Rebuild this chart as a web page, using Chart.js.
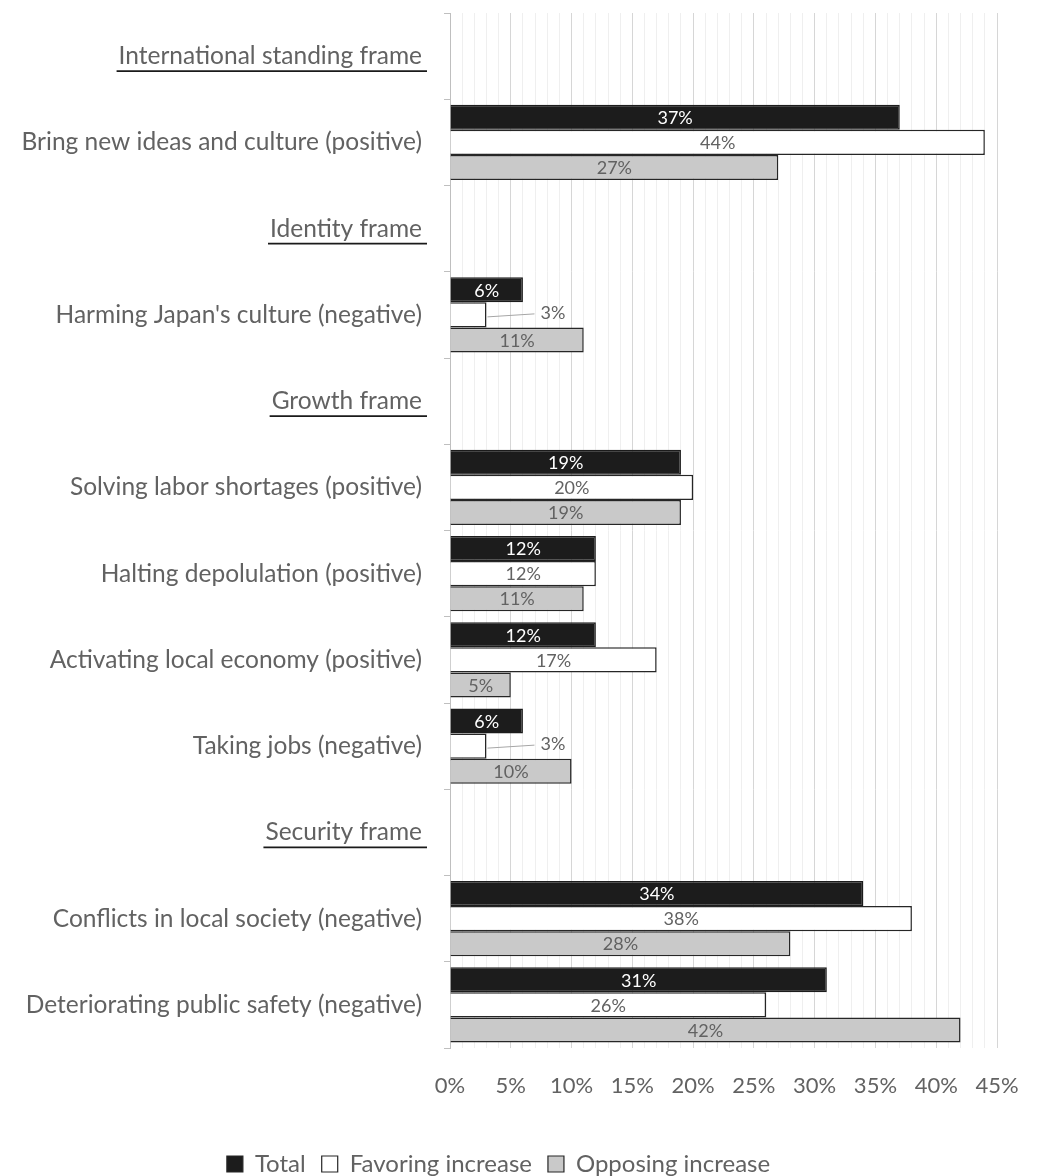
<!DOCTYPE html>
<html>
<head>
<meta charset="utf-8">
<script src="https://cdn.jsdelivr.net/npm/chart.js@4"></script>
<style>
  html, body { margin: 0; padding: 0; background: #ffffff; }
  #wrap { width: 1041px; height: 1176px; position: relative; }
</style>
</head>
<body>
<div id="wrap"><canvas id="c"></canvas></div>
<script>
const categories = [
  'International standing frame',
  'Bring new ideas and culture (positive)',
  'Identity frame',
  "Harming Japan's culture (negative)",
  'Growth frame',
  'Solving labor shortages (positive)',
  'Halting depolulation (positive)',
  'Activating local economy (positive)',
  'Taking jobs (negative)',
  'Security frame',
  'Conflicts in local society (negative)',
  'Deteriorating public safety (negative)'
];
const headers = ['International standing frame', 'Identity frame', 'Growth frame', 'Security frame'];
const seriesNames = ['Total', 'Favoring increase', 'Opposing increase'];
const totalValues     = [null, 37, null, 6,  null, 19, 12, 12, 6,  null, 34, 31];
const favoringValues  = [null, 44, null, 3,  null, 20, 12, 17, 3,  null, 38, 26];
const opposingValues  = [null, 27, null, 11, null, 19, 11, 5,  10, null, 28, 42];
const xTickValues = [0, 5, 10, 15, 20, 25, 30, 35, 40, 45];

const FONT = 'Lato';
const GREY_TEXT = '#626262';
const CAT_FONT_SIZE = 24.5;
const Y_TICK_PAD = 22;
const Y_TICK_LEN = 6;

const labelPlugin = {
  id: 'barLabels',
  afterDatasetsDraw(chart) {
    const ctx = chart.ctx;
    const colors = ['#ffffff', GREY_TEXT, GREY_TEXT];
    chart.data.datasets.forEach((ds, i) => {
      const meta = chart.getDatasetMeta(i);
      if (meta.hidden) return;
      meta.data.forEach((bar, j) => {
        const v = ds.data[j];
        if (v === null || v === undefined) return;
        const txt = v + '%';
        ctx.save();
        ctx.font = '18px ' + FONT;
        ctx.textBaseline = 'middle';
        const w = ctx.measureText(txt).width;
        const left = bar.base, right = bar.x;
        if (right - left < w + 20) {
          ctx.strokeStyle = '#a6a6a6';
          ctx.lineWidth = 1;
          ctx.beginPath();
          ctx.moveTo(right + 1, bar.y + 2);
          ctx.lineTo(right + 48, bar.y - 1);
          ctx.stroke();
          ctx.fillStyle = GREY_TEXT;
          ctx.textAlign = 'left';
          ctx.fillText(txt, right + 54, bar.y - 2);
        } else {
          ctx.fillStyle = colors[i];
          ctx.textAlign = 'center';
          ctx.fillText(txt, (left + right) / 2, bar.y + 1);
        }
        ctx.restore();
      });
    });
  }
};

const underlinePlugin = {
  id: 'headerUnderline',
  afterDraw(chart) {
    const ctx = chart.ctx;
    const ys = chart.scales.y;
    ctx.save();
    ctx.font = CAT_FONT_SIZE + 'px ' + FONT;
    ctx.strokeStyle = '#1a1a1a';
    ctx.lineWidth = 1.6;
    categories.forEach((c, i) => {
      if (!headers.includes(c)) return;
      const y = ys.getPixelForValue(i);
      const right = ys.right - Y_TICK_LEN - Y_TICK_PAD;
      const w = ctx.measureText(c).width;
      ctx.beginPath();
      ctx.moveTo(right - w - 2, y + 15);
      ctx.lineTo(right + 5, y + 15);
      ctx.stroke();
    });
    ctx.restore();
  }
};

const ctx = document.getElementById('c');
new Chart(ctx, {
  type: 'bar',
  data: {
    labels: categories,
    datasets: [
      { label: seriesNames[0], data: totalValues, backgroundColor: '#1c1c1c', borderColor: '#1c1c1c', borderWidth: 1.5 },
      { label: seriesNames[1], data: favoringValues, backgroundColor: '#ffffff', borderColor: '#262626', borderWidth: 1.5 },
      { label: seriesNames[2], data: opposingValues, backgroundColor: '#c9c9c9', borderColor: '#262626', borderWidth: 1.5 }
    ]
  },
  options: {
    indexAxis: 'y',
    responsive: true,
    maintainAspectRatio: false,
    animation: false,
    devicePixelRatio: 1,
    categoryPercentage: 0.87,
    barPercentage: 1.0,
    layout: { padding: { left: 0, right: 44, top: 13, bottom: -10 } },
    plugins: {
      tooltip: { enabled: false },
      legend: {
        position: 'bottom',
        labels: {
          font: { family: FONT, size: 24 },
          color: GREY_TEXT,
          boxWidth: 16,
          boxHeight: 16,
          padding: 16,
          generateLabels(chart) {
            return chart.data.datasets.map((ds, i) => ({
              text: ds.label,
              fillStyle: ds.backgroundColor,
              strokeStyle: '#262626',
              lineWidth: 1.2,
              fontColor: GREY_TEXT,
              hidden: false,
              datasetIndex: i
            }));
          }
        }
      }
    },
    scales: {
      x: {
        min: 0,
        max: 45,
        afterFit(scale) {
          scale.height = 88;
          scale.paddingLeft = 0;
          scale.paddingRight = 0;
        },
        afterBuildTicks(scale) {
          const t = [];
          for (let v = 0; v <= 45; v++) t.push({ value: v });
          scale.ticks = t;
        },
        ticks: {
          autoSkip: false,
          maxRotation: 0,
          padding: 25,
          color: GREY_TEXT,
          font: { family: FONT, size: 22 },
          callback(v) { return xTickValues.includes(v) ? v + '%' : ''; }
        },
        grid: {
          drawTicks: false,
          color(c) { return (c.tick && c.tick.value % 5 === 0) ? '#d6d6d6' : '#efefef'; },
          lineWidth: 1
        },
        border: { display: false }
      },
      y: {
        afterFit(scale) {
          scale.width = 450;
          scale.paddingTop = 0;
          scale.paddingBottom = 0;
        },
        ticks: {
          color: GREY_TEXT,
          font: { family: FONT, size: CAT_FONT_SIZE },
          padding: Y_TICK_PAD
        },
        grid: {
          drawOnChartArea: false,
          drawTicks: true,
          tickLength: Y_TICK_LEN,
          color: '#bfbfbf',
          offset: true
        },
        border: { display: true, color: '#bfbfbf', width: 1 }
      }
    }
  },
  plugins: [labelPlugin, underlinePlugin]
});
</script>
</body>
</html>
